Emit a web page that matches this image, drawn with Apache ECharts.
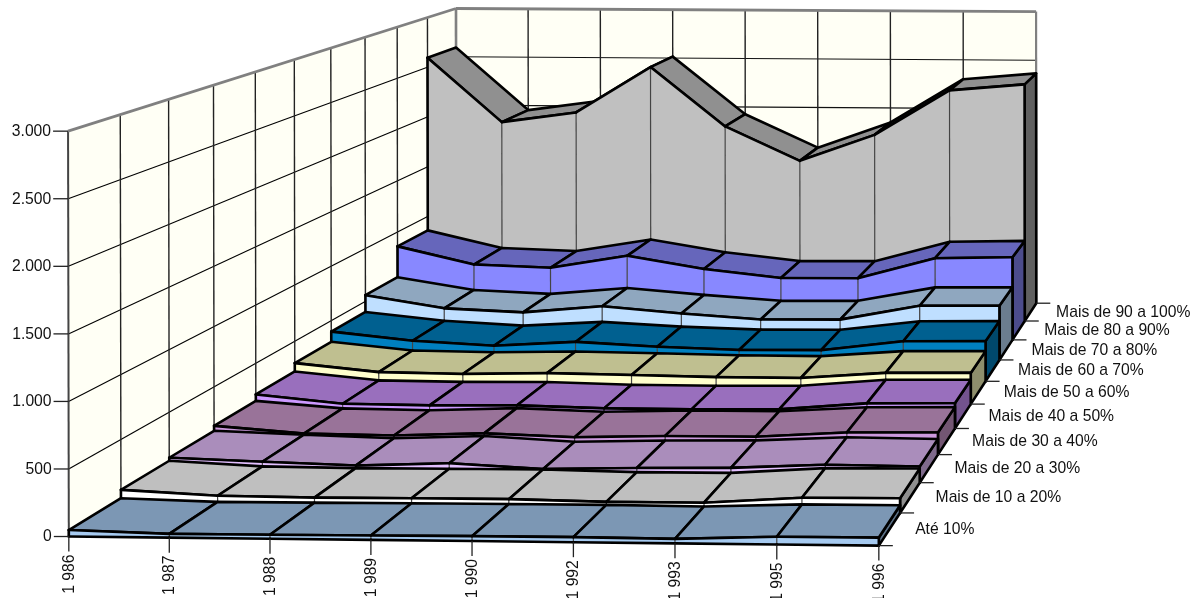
<!DOCTYPE html>
<html>
<head>
<meta charset="utf-8">
<style>html,body{margin:0;padding:0;background:#fff}#c{width:1192px;height:598px}</style>
<script src="https://cdn.jsdelivr.net/npm/echarts@6/dist/echarts.min.js"></script>
</head>
<body>
<div id="c"></div>
<script>
// ---- data ----
var categories = ['1 986','1 987','1 988','1 989','1 990','1 992','1 993','1 995','1 996'];
var seriesNames = ['Até 10%','Mais de 10 a 20%','Mais de 20 a 30%','Mais de 30 a 40%','Mais de 40 a 50%','Mais de 50 a 60%','Mais de 60 a 70%','Mais de 70 a 80%','Mais de 80 a 90%','Mais de 90 a 100%'];
var valueTicks = [0,500,1000,1500,2000,2500,3000];
var valueTickLabels = ['0','500','1.000','1.500','2.000','2.500','3.000'];
var ate10   = [48,28,30,33,36,37,33,57,59];
var de10a20 = [112,75,69,72,73,60,62,108,112];
var de20a30 = [136,112,89,115,76,93,102,135,128];
var de30a40 = [177,120,112,137,113,131,132,174,182];
var de40a50 = [232,160,153,160,142,141,148,207,215];
var de50a60 = [306,233,223,238,228,217,216,268,275];
var de60a70 = [399,322,283,325,287,265,270,358,366];
var de70a80 = [558,440,408,472,411,360,366,503,510];
var de80a90 = [859,688,663,785,663,581,586,786,801];
var de90a100 = [2596,1953,2055,2515,1925,1585,1850,2300,2365];
var allValues = [ate10,de10a20,de20a30,de30a40,de40a50,de50a60,de60a70,de70a80,de80a90,de90a100];
var frontColors = ['#A6CAF0','#FFFFFF','#E3BFFF','#CC99DD','#CC99FF','#FFFFCC','#0080C0','#BFDFFF','#8888FF','#C0C0C0'];
var topColors   = ['#7C97B4','#BFBFBF','#AA8DBB','#997399','#996FBD','#BFBF90','#006090','#8FA7BF','#6666BB','#909090'];
var sideColors  = ['#5C7187','#8F8F8F','#7F6A8C','#735673','#73538E','#8F8F6C','#00486C','#6B7D8F','#4C4C8C','#606060'];

// ---- camera: (category, depth, value) -> page position, fitted to the frame corners ----
var anchors = [
 [0,0,0,69,536],[8,0,0,878,546],[4,0,0,472,541],
 [0,0,3000,67.5,131.5],[0,5,3000,295,59.5],[0,10,3000,456,8],[4,10,3000,745,10],[8,10,3000,1036,12],
 [8,10,0,1036,302.7],[0,10,0,456,299],[0,5,0,295,397.5],[8,5,0,972,404]
];
function fitCamera(pts){
  var n=11, A=[], i,j,k;
  for(i=0;i<n;i++){A.push(new Array(n+1).fill(0));}
  function add(r,b){for(var a=0;a<n;a++){for(var c=0;c<n;c++)A[a][c]+=r[a]*r[c];A[a][n]+=r[a]*b;}}
  pts.forEach(function(p){
    var X=p[0]/8,Y=p[1]/10,Z=p[2]/3000,x=p[3]/1000,y=p[4]/1000;
    add([X,Y,Z,1,0,0,0,0,-x*X,-x*Y,-x*Z],x);
    add([0,0,0,0,X,Y,Z,1,-y*X,-y*Y,-y*Z],y);
  });
  for(i=0;i<n;i++){
    var m=i;for(j=i+1;j<n;j++)if(Math.abs(A[j][i])>Math.abs(A[m][i]))m=j;
    var t=A[i];A[i]=A[m];A[m]=t;
    for(j=0;j<n;j++){if(j===i)continue;var f=A[j][i]/A[i][i];for(k=i;k<=n;k++)A[j][k]-=f*A[i][k];}
  }
  var s=[];for(i=0;i<n;i++)s.push(A[i][n]/A[i][i]);
  return s;
}
var cam = fitCamera(anchors);
function project(u,d,v){
  var X=u/8,Y=d/10,Z=v/3000,w=cam[8]*X+cam[9]*Y+cam[10]*Z+1;
  return [1000*(cam[0]*X+cam[1]*Y+cam[2]*Z+cam[3])/w,1000*(cam[4]*X+cam[5]*Y+cam[6]*Z+cam[7])/w];
}

var EDGE='#000', EW=2.6, lastU=categories.length-1, depth=seriesNames.length;
var FONT='Liberation Sans, Arial, sans-serif', FS=15.7, TXT='#111';

function renderFrame(params,api){
  if(params.dataIndex!==0) return {type:'group',children:[]};
  function P(u,d,v){return api.coord(project(u,d,v));}
  var ch=[];
  function poly(pts,fill,stroke,w){ch.push({type:'polygon',shape:{points:pts},style:{fill:fill,stroke:stroke||null,lineWidth:w||0}});}
  function line(a,b,c,w){ch.push({type:'line',shape:{x1:a[0],y1:a[1],x2:b[0],y2:b[1]},style:{stroke:c,lineWidth:w}});}
  var vMax=valueTicks[valueTicks.length-1];
  poly([P(0,0,0),P(0,depth,0),P(lastU,depth,0),P(lastU,0,0)],'#FFFFF5');
  poly([P(0,0,0),P(0,depth,0),P(0,depth,vMax),P(0,0,vMax)],'#FFFFF5');
  poly([P(0,depth,0),P(lastU,depth,0),P(lastU,depth,vMax),P(0,depth,vMax)],'#FFFFF5');
  valueTicks.forEach(function(v){
    if(v===vMax) return;
    line(P(0,0,v),P(0,depth,v),'#000',1.1);
    line(P(0,depth,v),P(lastU,depth,v),'#111',1.1);
  });
  for(var d=1;d<depth;d++) line(P(0,d,0),P(0,d,vMax),'#222',1.4);
  for(var u=1;u<lastU;u++) line(P(u,depth,0),P(u,depth,vMax),'#222',1.4);
  var g='#808080';
  line(P(0,0,0),P(0,0,vMax),'#444',2);
  line(P(0,0,vMax),P(0,depth,vMax),g,2.8);
  line(P(0,depth,vMax),P(lastU,depth,vMax),g,2.8);
  line(P(0,depth,0),P(0,depth,vMax),g,2.6);
  line(P(lastU,depth,0),P(lastU,depth,vMax),g,2.2);
  return {type:'group',children:ch};
}
function renderAxes(params,api){
  if(params.dataIndex!==0) return {type:'group',children:[]};
  function P(u,d,v){return api.coord(project(u,d,v));}
  var ch=[];
  function line(a,b){ch.push({type:'line',shape:{x1:a[0],y1:a[1],x2:b[0],y2:b[1]},style:{stroke:'#222',lineWidth:1.3}});}
  function text(s,x,y,align,vert,rot){ch.push({type:'text',x:x,y:y,rotation:rot||0,style:{text:s,fontFamily:FONT,fontSize:FS,fill:TXT,textAlign:align,textVerticalAlign:vert,verticalAlign:vert,align:align}});}
  valueTicks.forEach(function(v,i){
    var p=P(0,0,v); line([p[0]-15,p[1]],p);
    text(valueTickLabels[i],p[0]-17,p[1]+0.5,'right','middle');
  });
  categories.forEach(function(c,u){
    var p=P(u,0,0); line(p,[p[0],p[1]+15]);
    text(c,p[0]+0.5,p[1]+18,'right','middle',Math.PI/2);
  });
  for(var d=0;d<=depth;d++){var q=P(lastU,d,0); line(q,[q[0]+14,q[1]]);}
  seriesNames.forEach(function(n,d){
    var q=P(lastU,d+0.5,0);
    text(n,q[0]+25.5,q[1]+0.5,'left','middle');
  });
  return {type:'group',children:ch};
}
function makeRibbon(d){
  var vals=allValues[d];
  return function(params,api){
    if(params.dataIndex!==0) return {type:'group',children:[]};
    function P(u,dd,v){return api.coord(project(u,dd,v));}
    var sides=[],tops=[],fronts=[],lines=[];
    for(var u=0;u<lastU;u++){
      tops.push({type:'polygon',z2:1,shape:{points:[P(u,d,vals[u]),P(u+1,d,vals[u+1]),P(u+1,d+1,vals[u+1]),P(u,d+1,vals[u])]},
        style:{fill:topColors[d],stroke:EDGE,lineWidth:EW,lineJoin:'round'}});
      fronts.push({type:'polygon',z2:2,shape:{points:[P(u,d,vals[u]),P(u+1,d,vals[u+1]),P(u+1,d,0),P(u,d,0)]},
        style:{fill:frontColors[d]}});
      if(u>0) lines.push({type:'line',z2:3,shape:{x1:P(u,d,vals[u])[0],y1:P(u,d,vals[u])[1],x2:P(u,d,0)[0],y2:P(u,d,0)[1]},style:{stroke:'#444',lineWidth:1.2}});
      lines.push({type:'line',z2:4,shape:{x1:P(u,d,vals[u])[0],y1:P(u,d,vals[u])[1],x2:P(u+1,d,vals[u+1])[0],y2:P(u+1,d,vals[u+1])[1]},style:{stroke:EDGE,lineWidth:EW,lineCap:'round'}});
      lines.push({type:'line',z2:4,shape:{x1:P(u,d,0)[0],y1:P(u,d,0)[1],x2:P(u+1,d,0)[0],y2:P(u+1,d,0)[1]},style:{stroke:EDGE,lineWidth:EW,lineCap:'round'}});
    }
    sides.push({type:'polygon',z2:0,shape:{points:[P(lastU,d,vals[lastU]),P(lastU,d+1,vals[lastU]),P(lastU,d+1,0),P(lastU,d,0)]},
      style:{fill:sideColors[d],stroke:EDGE,lineWidth:EW,lineJoin:'round'}});
    [[0],[lastU]].forEach(function(e){var a=P(e[0],d,vals[e[0]]),b=P(e[0],d,0);
      lines.push({type:'line',z2:4,shape:{x1:a[0],y1:a[1],x2:b[0],y2:b[1]},style:{stroke:EDGE,lineWidth:EW,lineCap:'round'}});});
    return {type:'group',children:sides.concat(tops,fronts,lines)};
  };
}
var series=[{type:'custom',z:1,silent:true,renderItem:renderFrame,data:[[0,0]],clip:false}];
seriesNames.forEach(function(n,d){
  series.push({type:'custom',name:n,z:30-d,silent:true,clip:false,renderItem:makeRibbon(d),data:[[0,0]]});
});
series.push({type:'custom',z:40,silent:true,renderItem:renderAxes,data:[[0,0]],clip:false});
var chart=echarts.init(document.getElementById('c'),null,{renderer:'canvas'});
chart.setOption({
  animation:false,backgroundColor:'#fff',
  grid:{left:0,right:0,top:0,bottom:0},
  xAxis:{type:'value',min:0,max:1192,show:false},
  yAxis:{type:'value',min:0,max:598,inverse:true,show:false},
  series:series
});
</script>
</body>
</html>
